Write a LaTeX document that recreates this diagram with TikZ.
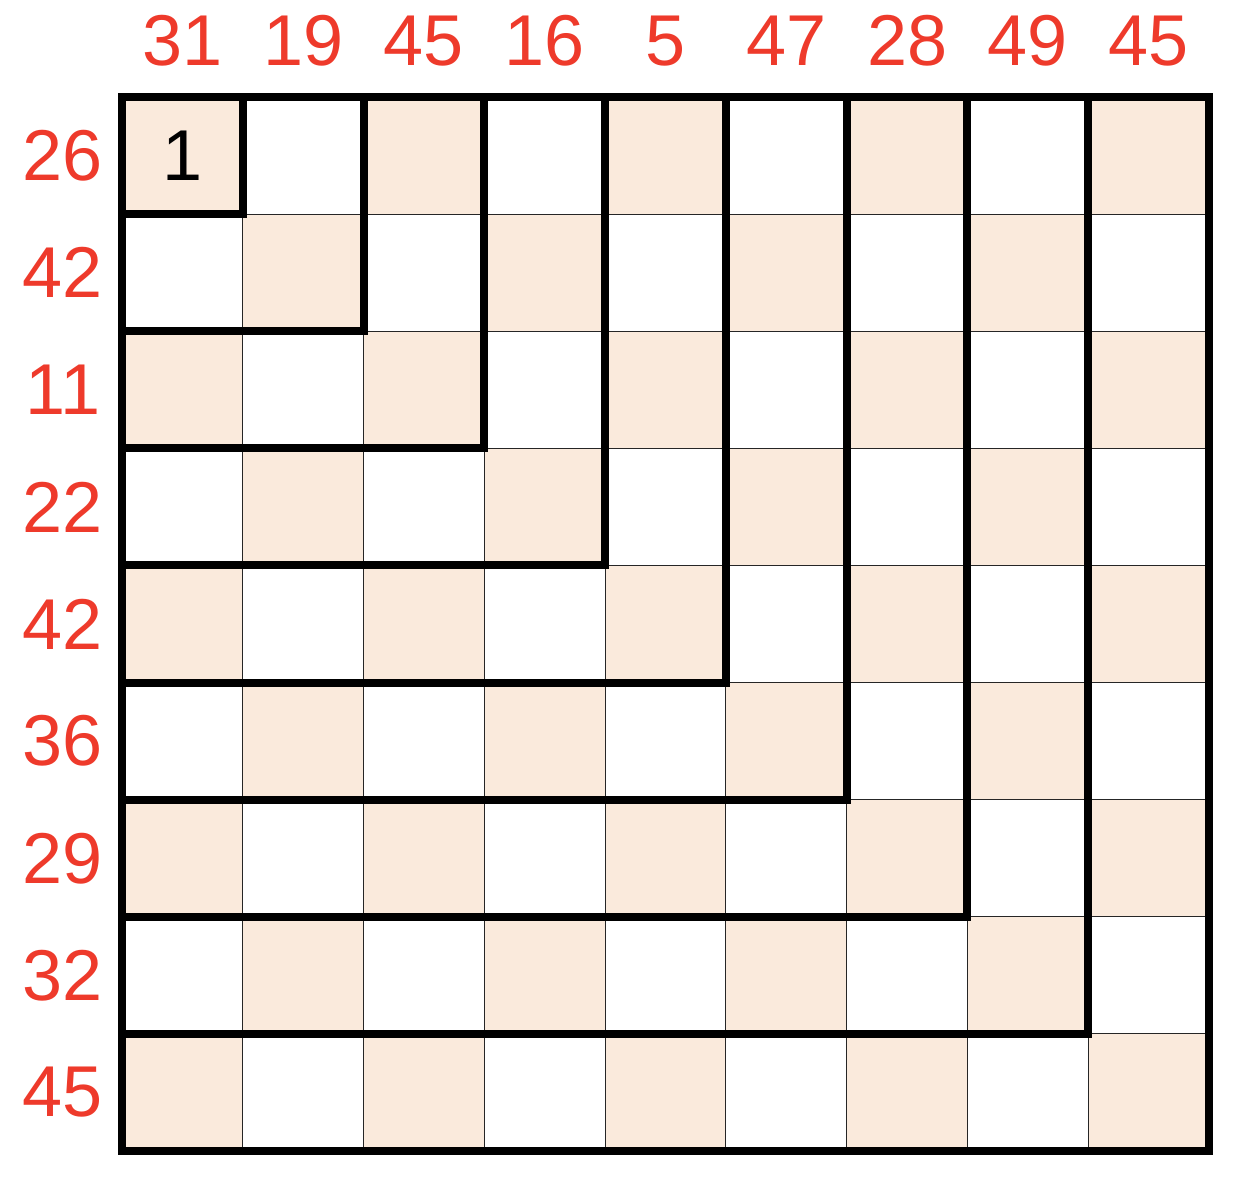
\documentclass[tikz,border=0pt]{standalone}
\usepackage{fontspec}
\setmainfont{Liberation Sans}
\definecolor{cellshade}{HTML}{FAEADC}
\definecolor{lblred}{HTML}{EE3A2B}
\begin{document}
\begin{tikzpicture}[x=1pt,y=-1pt,
  lbl/.style={text=lblred,font=\fontsize{72}{80}\selectfont,inner sep=0pt,anchor=center},
  given/.style={text=black,font=\fontsize{72}{80}\selectfont,inner sep=0pt,anchor=center},
  gridline/.style={draw=black!85,line width=1pt},
  regionline/.style={draw=black,line width=8pt,line cap=rect,line join=miter}]
\useasboundingbox (0,0) rectangle (1242,1180);
\def\cw{120.78}
\def\ch{117.11}
\def\xo{122}
\def\yo{97}
% shading
\foreach \r in {0,...,8}{
  \foreach \c in {0,...,8}{
    \pgfmathparse{int(mod(\r+\c,2))}
    \ifnum\pgfmathresult=0
      \fill[cellshade] (\xo+\c*\cw,\yo+\r*\ch) rectangle (\xo+\c*\cw+\cw,\yo+\r*\ch+\ch);
    \fi
  }
}
% thin grid
\foreach \i in {1,...,8}{
  \draw[gridline] (\xo+\i*\cw,\yo) -- (\xo+\i*\cw,\yo+9*\ch);
  \draw[gridline] (\xo,\yo+\i*\ch) -- (\xo+9*\cw,\yo+\i*\ch);
}
% L-shaped regions
\foreach \k in {1,...,8}{
  \draw[regionline] (\xo,\yo+\k*\ch) -- (\xo+\k*\cw,\yo+\k*\ch) -- (\xo+\k*\cw,\yo);
}
% outer border
\draw[draw=black,line width=8pt] (\xo,\yo) rectangle (\xo+9*\cw,\yo+9*\ch);
% column labels
\foreach \v [count=\c from 0] in {31,19,45,16,5,47,28,49,45}{
  \node[lbl] (col\c) at (\xo+\c*\cw+0.5*\cw,41) {\v};
}
% row labels
\foreach \v [count=\r from 0] in {26,42,11,22,42,36,29,32,45}{
  \node[lbl] (row\r) at (63,\yo+\r*\ch+0.5*\ch) {\v};
}
\node[given] (g00) at (\xo+0.5*\cw,\yo+0.5*\ch) {1};
\end{tikzpicture}
\end{document}
